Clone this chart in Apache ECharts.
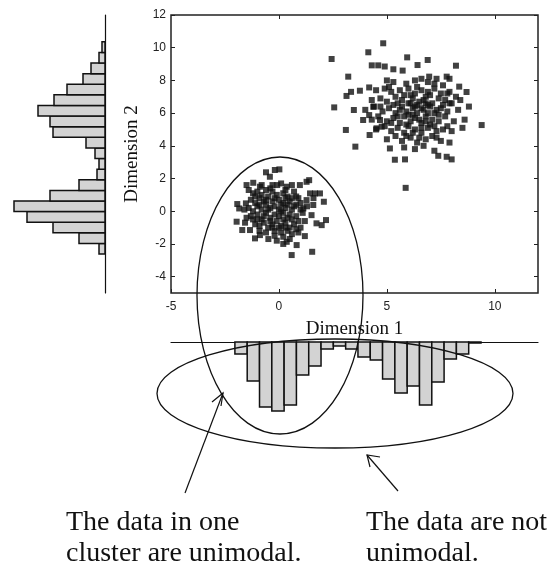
<!DOCTYPE html>
<html>
<head>
<meta charset="utf-8">
<script src="https://cdn.jsdelivr.net/npm/echarts@6.0.0/dist/echarts.min.js"></script>
<style>
  html, body { margin: 0; padding: 0; background: #ffffff; }
  #main { width: 554px; height: 571px; }
</style>
</head>
<body>
<div id="main"></div>
<script>
// tick values of the scatter axes
const dim1Ticks = [-5, 0, 5, 10];
const dim2Ticks = [-4, -2, 0, 2, 4, 6, 8, 10, 12];

// cluster around (0, 0)
const clusterA = [
  [-0.19, 2.52], [-0.6, 2.38], [0.02, 2.56], [-0.42, 2.11], [-0.08, 1.6], [0.36, 1.5], [0.97, 1.6],
  [1.28, 1.8], [1.4, 1.9], [-1.5, 1.6], [-1.19, 1.74], [-0.88, 1.5], [-1.93, 0.44], [-1.84, 0.17],
  [-1.53, 0.48], [-1.96, -0.64], [-1.57, -0.7], [-1.7, -1.15], [-1.34, -1.15], [-1.11, -1.66],
  [-0.88, -1.46], [-0.49, -1.7], [0.59, -2.68], [1.54, -2.48], [0.82, -2.07], [0.36, -1.87],
  [0.2, -1.56], [1.2, -1.52], [1.74, -0.74], [2.18, -0.54], [1.98, -0.85], [2.08, 0.58], [1.9, 1.09],
  [1.67, 1.09], [1.44, 1.09], [1.59, 0.38], [1.51, -0.24], [1.28, 0.68], [1.13, 0.17],
  [-1.2, 1.1], [-1.0, 1.2], [-0.8, 1.0], [-0.6, 1.3], [-0.3, 1.2], [-0.1, 1.0], [0.2, 1.1], [0.4, 0.9],
  [0.7, 1.2], [0.9, 0.8], [-1.3, 0.7], [-1.1, 0.5], [-0.9, 0.8], [-0.7, 0.6], [-0.5, 0.9], [-0.3, 0.6],
  [0.0, 0.7], [0.2, 0.5], [0.5, 0.6], [0.8, 0.4], [1.0, 0.5], [-1.4, 0.2], [-1.2, 0.0], [-1.0, 0.3],
  [-0.8, 0.1], [-0.6, 0.4], [-0.4, 0.2], [-0.2, 0.3], [0.0, 0.1], [0.1, 0.4], [0.3, 0.2], [0.6, 0.1],
  [0.7, 0.3], [1.1, -0.1], [-1.3, -0.3], [-1.0, -0.2], [-0.8, -0.5], [-0.6, -0.1], [-0.4, -0.4],
  [-0.2, -0.2], [0.0, -0.3], [0.2, -0.1], [0.4, -0.4], [0.5, -0.2], [0.8, -0.3], [0.9, -0.6],
  [-1.1, -0.8], [-0.9, -0.9], [-0.7, -0.7], [-0.5, -1.0], [-0.3, -0.8], [-0.1, -0.6], [0.1, -0.9],
  [0.3, -0.7], [0.5, -1.0], [0.7, -0.8], [1.0, -1.0], [-0.6, -1.3], [-0.2, -1.2], [0.1, -1.3],
  [0.4, -1.2], [0.6, -1.4], [0.2, -2.0], [0.5, -1.7], [-0.1, -1.8], [-0.9, 0.4], [-0.5, 0.1],
  [0.3, 0.8], [0.6, -0.5], [-0.2, 0.8], [-0.7, -0.3], [0.1, 0.0], [-0.4, -0.6], [0.4, 0.4],
  [-1.6, 0.1], [-1.5, -0.4], [1.3, 0.3], [1.2, -0.6], [-0.3, 1.6], [0.1, 1.7], [0.6, 1.6],
  [-0.8, 1.6], [0.9, -1.3], [-1.4, 1.3], [0.0, -1.0], [-0.2, -1.5], [1.6, 0.8],
  [-1.1, 0.9], [-0.4, 1.4], [0.3, 1.3], [0.8, 0.9], [-1.2, -0.5], [-0.3, -1.0], [0.3, -1.0],
  [0.8, -1.1], [-0.9, -1.2], [0.6, 0.8], [-0.6, 0.7], [1.0, 0.1], [-1.0, -0.5], [0.2, -0.5]
];

// cluster around (6, 6)
const clusterB = [
  [2.44, 9.31], [4.83, 10.27], [4.14, 9.72], [5.94, 9.41], [6.89, 9.25], [6.42, 8.94], [8.2, 8.9],
  [4.3, 8.92], [4.6, 8.92], [4.9, 8.85], [5.3, 8.68], [5.73, 8.6], [3.21, 8.23], [2.56, 6.35],
  [3.1, 4.97], [3.54, 3.95], [4.2, 4.66], [5.37, 3.15], [5.87, 1.43], [5.84, 3.17], [5.14, 3.84],
  [7.38, 3.39], [7.77, 3.33], [8.0, 3.17], [9.39, 5.27], [8.69, 7.29], [8.35, 7.62], [7.77, 8.23],
  [7.9, 8.1], [7.3, 8.1], [6.96, 8.23], [3.34, 7.3], [3.75, 7.37], [4.18, 7.57], [3.13, 7.05],
  [3.47, 6.19], [3.9, 5.58], [4.37, 6.39], [4.18, 5.88], [4.68, 5.58], [4.76, 5.17], [4.52, 5.07],
  [5.0, 8.0], [5.3, 7.9], [5.9, 7.8], [6.3, 8.0], [6.6, 8.1], [6.9, 7.9], [7.2, 7.8], [7.6, 7.7],
  [4.5, 7.4], [4.9, 7.5], [5.2, 7.3], [5.6, 7.4], [6.0, 7.5], [6.3, 7.2], [6.6, 7.4], [6.9, 7.3],
  [7.2, 7.5], [7.5, 7.2], [7.9, 7.3], [8.2, 7.0], [4.3, 6.8], [4.7, 6.9], [5.0, 6.7], [5.4, 7.0],
  [5.7, 6.8], [6.0, 6.6], [6.2, 6.9], [6.5, 6.7], [6.8, 7.0], [7.1, 6.6], [7.4, 6.9], [7.7, 6.8],
  [8.0, 6.6], [8.4, 6.8], [4.0, 6.2], [4.4, 6.4], [4.8, 6.1], [5.1, 6.3], [5.4, 6.0], [5.7, 6.4],
  [5.9, 6.1], [6.2, 6.3], [6.4, 6.0], [6.7, 6.2], [7.0, 6.4], [7.2, 6.0], [7.5, 6.3], [7.8, 6.1],
  [8.3, 6.2], [8.8, 6.4], [4.3, 5.6], [4.6, 5.8], [5.0, 5.5], [5.3, 5.7], [5.6, 5.4], [5.8, 5.8],
  [6.1, 5.5], [6.3, 5.7], [6.6, 5.4], [6.8, 5.8], [7.1, 5.6], [7.4, 5.5], [7.7, 5.8], [8.1, 5.5],
  [8.6, 5.6], [4.5, 5.0], [4.9, 5.2], [5.2, 4.9], [5.5, 5.1], [5.8, 4.8], [6.0, 5.2], [6.3, 5.0],
  [6.6, 4.8], [6.9, 5.1], [7.3, 4.9], [7.6, 5.0], [8.0, 4.9], [8.5, 5.1], [5.0, 4.4], [5.4, 4.6],
  [5.7, 4.3], [6.1, 4.5], [6.4, 4.2], [6.8, 4.4], [7.1, 4.6], [7.5, 4.3], [7.9, 4.2], [5.8, 3.9],
  [6.3, 3.8], [6.7, 4.0], [7.2, 3.7], [6.1, 6.6], [6.4, 6.5], [6.9, 6.0], [6.5, 5.6], [6.0, 5.9],
  [7.0, 5.3], [5.6, 6.2], [6.3, 6.4], [6.7, 6.8], [7.3, 6.2], [5.9, 5.3], [6.2, 5.9], [6.8, 5.5],
  [7.6, 6.5], [5.5, 6.6], [6.6, 6.3], [7.0, 7.1], [6.4, 7.6], [5.8, 7.1], [7.8, 5.2], [7.3, 4.5],
  [6.2, 4.8], [5.2, 5.4], [5.5, 5.8], [6.9, 6.5], [7.4, 5.9], [6.1, 7.1], [5.3, 6.5], [7.8, 7.2],
  [4.7, 6.4], [6.6, 5.1], [7.2, 5.2], [5.9, 4.6], [6.5, 4.5], [7.9, 6.6], [5.1, 7.6], [6.8, 6.6]
];

// histogram of Dimension 2 (left), bin edges and counts from bottom to top
const dim2BinEdges = [-2.62, -1.97, -1.32, -0.67, -0.02, 0.62, 1.27, 1.92, 2.57, 3.22, 3.87,
  4.52, 5.17, 5.82, 6.47, 7.12, 7.77, 8.41, 9.06, 9.71, 10.36];
const dim2Counts = [6, 26, 52, 78, 91, 55, 26, 8, 6, 10, 19, 52, 55, 67, 51, 38, 22, 14, 6, 3];

// histogram of Dimension 1 (bottom), bin edges and counts from left to right
const dim1BinEdges = [-2.04, -1.47, -0.90, -0.33, 0.24, 0.81, 1.38, 1.95, 2.52, 3.09, 3.66,
  4.23, 4.80, 5.37, 5.94, 6.51, 7.08, 7.65, 8.22, 8.79, 9.36];
const dim1Counts = [12, 39, 65, 69, 63, 33, 24, 7, 4, 7, 15, 18, 37, 51, 44, 63, 40, 17, 12, 1];

const dim2Hist = dim2Counts.map((n, i) => [dim2BinEdges[i], dim2BinEdges[i + 1], n]);
const dim1Hist = dim1Counts.map((n, i) => [dim1BinEdges[i], dim1BinEdges[i + 1], n]);

const ink = '#111111';
const barStyle = { fill: '#d3d3d3', stroke: ink, lineWidth: 1.5 };
const serif = '"Liberation Serif", "Times New Roman", serif';
const sans = '"Liberation Sans", Arial, sans-serif';

// left histogram: bars grow from the baseline (count 0) to the left
function leftBar(params, api) {
  const a = api.coord([0, api.value(1)]);
  const b = api.coord([api.value(2), api.value(0)]);
  return {
    type: 'rect',
    shape: { x: Math.min(a[0], b[0]), y: Math.min(a[1], b[1]), width: Math.abs(b[0] - a[0]), height: Math.abs(b[1] - a[1]) },
    style: barStyle
  };
}

// bottom histogram: bars hang down from the baseline
function bottomBar(params, api) {
  const a = api.coord([api.value(0), 0]);
  const b = api.coord([api.value(1), api.value(2)]);
  return {
    type: 'rect',
    shape: { x: Math.min(a[0], b[0]), y: Math.min(a[1], b[1]), width: Math.abs(b[0] - a[0]), height: Math.abs(b[1] - a[1]) },
    style: barStyle
  };
}

const chart = echarts.init(document.getElementById('main'));

const tickStyle = { lineStyle: { color: '#222', width: 1 } };
const noLine = { show: false, onZero: false };

const option = {
  backgroundColor: '#ffffff',
  animation: false,
  grid: [
    { left: 171, top: 15, width: 367, height: 278, show: true, borderColor: '#222', borderWidth: 1.5, backgroundColor: 'transparent' },
    { left: 5, top: 15, width: 100, height: 278 },
    { left: 171, top: 342, width: 367, height: 100 }
  ],
  xAxis: [
    {
      gridIndex: 0, type: 'value', min: -5, max: 12,
      axisLine: noLine,
      axisTick: Object.assign({ inside: true, length: 4, customValues: dim1Ticks }, tickStyle),
      axisLabel: { customValues: dim1Ticks, fontFamily: sans, fontSize: 12, color: '#222', margin: 8 },
      splitLine: { show: false },
      name: 'Dimension 1', nameLocation: 'middle', nameGap: 27,
      nameTextStyle: { fontFamily: serif, fontSize: 19, color: ink }
    },
    {
      gridIndex: 0, type: 'value', min: -5, max: 12, position: 'top',
      axisLine: noLine,
      axisTick: Object.assign({ inside: true, length: 4, customValues: [0, 5, 10] }, tickStyle),
      axisLabel: { show: false },
      splitLine: { show: false }
    },
    { gridIndex: 1, type: 'value', min: 0, max: 100, inverse: true, show: false },
    {
      gridIndex: 2, type: 'value', min: -5, max: 12, position: 'top',
      axisLine: { show: true, onZero: false, lineStyle: { color: ink, width: 1.2 } },
      axisTick: { show: false }, axisLabel: { show: false }, splitLine: { show: false }
    }
  ],
  yAxis: [
    {
      gridIndex: 0, type: 'value', min: -5, max: 12,
      axisLine: noLine,
      axisTick: Object.assign({ inside: true, length: 4, customValues: dim2Ticks }, tickStyle),
      axisLabel: { customValues: dim2Ticks, fontFamily: sans, fontSize: 12, color: '#222', margin: 5 },
      splitLine: { show: false },
      name: 'Dimension 2', nameLocation: 'middle', nameGap: 27, nameRotate: 90,
      nameTextStyle: { fontFamily: serif, fontSize: 19, color: ink }
    },
    {
      gridIndex: 0, type: 'value', min: -5, max: 12, position: 'right',
      axisLine: noLine,
      axisTick: Object.assign({ inside: true, length: 4, customValues: dim2Ticks }, tickStyle),
      axisLabel: { show: false },
      splitLine: { show: false }
    },
    {
      gridIndex: 1, type: 'value', min: -5, max: 12, position: 'right',
      axisLine: { show: true, onZero: false, lineStyle: { color: ink, width: 1.2 } },
      axisTick: { show: false }, axisLabel: { show: false }, splitLine: { show: false }
    },
    { gridIndex: 2, type: 'value', min: 0, max: 100, inverse: true, show: false }
  ],
  series: [
    {
      name: 'Cluster 1', type: 'scatter', xAxisIndex: 0, yAxisIndex: 0,
      symbol: 'rect', symbolSize: 6, itemStyle: { color: ink }, data: clusterA
    },
    {
      name: 'Cluster 2', type: 'scatter', xAxisIndex: 0, yAxisIndex: 0,
      symbol: 'rect', symbolSize: 6, itemStyle: { color: ink }, data: clusterB
    },
    {
      name: 'Dimension 2 histogram', type: 'custom', xAxisIndex: 2, yAxisIndex: 2,
      renderItem: leftBar, encode: { x: 2, y: [0, 1] }, data: dim2Hist
    },
    {
      name: 'Dimension 1 histogram', type: 'custom', xAxisIndex: 3, yAxisIndex: 3,
      renderItem: bottomBar, encode: { x: [0, 1], y: 2 }, data: dim1Hist
    }
  ],
  graphic: [
    // annotation ellipses
    { type: 'ellipse', z: 100, shape: { cx: 280, cy: 295.5, rx: 83, ry: 138.5 }, style: { fill: 'none', stroke: ink, lineWidth: 1.3 } },
    { type: 'ellipse', z: 100, shape: { cx: 335, cy: 393.5, rx: 178, ry: 54.5 }, style: { fill: 'none', stroke: ink, lineWidth: 1.3 } },
    // arrows
    { type: 'line', z: 100, shape: { x1: 185, y1: 493, x2: 223, y2: 393 }, style: { stroke: ink, lineWidth: 1.2 } },
    { type: 'polyline', z: 100, shape: { points: [[212, 402], [223, 393], [221, 406]] }, style: { stroke: ink, lineWidth: 1.2, fill: 'none' } },
    { type: 'line', z: 100, shape: { x1: 398, y1: 491, x2: 367, y2: 455 }, style: { stroke: ink, lineWidth: 1.2 } },
    { type: 'polyline', z: 100, shape: { points: [[380, 457], [367, 455], [370, 467]] }, style: { stroke: ink, lineWidth: 1.2, fill: 'none' } },
    // captions
    { type: 'text', z: 100, left: 66, top: 509, style: { text: 'The data in one', font: '28px ' + serif, fill: ink } },
    { type: 'text', z: 100, left: 66, top: 540, style: { text: 'cluster are unimodal.', font: '28px ' + serif, fill: ink } },
    { type: 'text', z: 100, left: 366, top: 509, style: { text: 'The data are not', font: '28px ' + serif, fill: ink } },
    { type: 'text', z: 100, left: 366, top: 540, style: { text: 'unimodal.', font: '28px ' + serif, fill: ink } }
  ]
};

chart.setOption(option);
</script>
</body>
</html>
